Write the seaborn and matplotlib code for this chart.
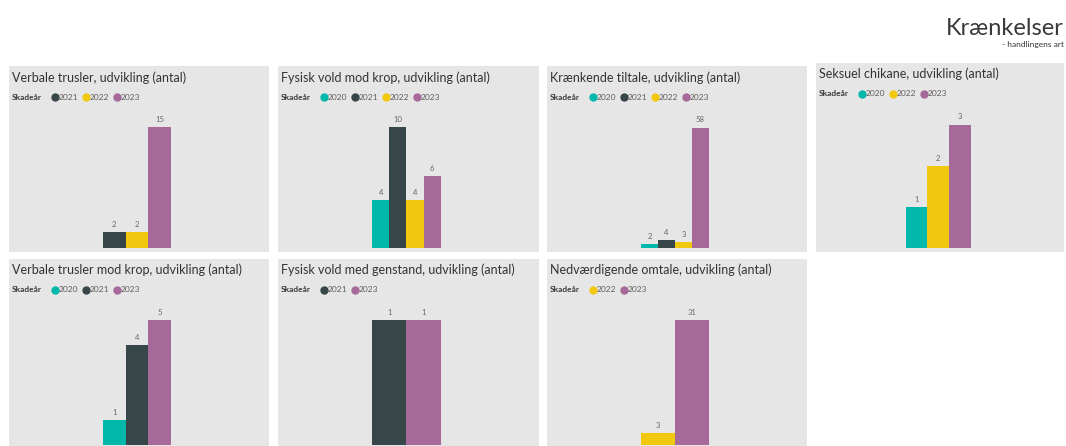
import matplotlib
matplotlib.use("Agg")
import matplotlib.pyplot as plt
import seaborn as sns

# panel data (Skadeår -> antal)
titles = [
    "Verbale trusler, udvikling (antal)",
    "Fysisk vold mod krop, udvikling (antal)",
    "Krænkende tiltale, udvikling (antal)",
    "Seksuel chikane, udvikling (antal)",
    "Verbale trusler mod krop, udvikling (antal)",
    "Fysisk vold med genstand, udvikling (antal)",
    "Nedværdigende omtale, udvikling (antal)",
]
years = [
    ["2021", "2022", "2023"],
    ["2020", "2021", "2022", "2023"],
    ["2020", "2021", "2022", "2023"],
    ["2020", "2022", "2023"],
    ["2020", "2021", "2023"],
    ["2021", "2023"],
    ["2022", "2023"],
]
counts = [
    [2, 2, 15],
    [4, 10, 4, 6],
    [2, 4, 3, 58],
    [1, 2, 3],
    [1, 4, 5],
    [1, 1],
    [3, 31],
]
palette = {"2020": "#01B8AA", "2021": "#374649", "2022": "#F2C80F", "2023": "#A66999"}

# panel boxes in pixels (left, top, right, bottom)
boxes = [(9, 66, 269, 252), (278, 66, 539, 252), (547, 66, 807, 252), (816, 63, 1064, 252),
         (9, 259, 269, 449), (278, 259, 539, 449), (547, 259, 807, 449)]

W, H = 1066, 446
plt.rcParams["font.family"] = ["Lato", "DejaVu Sans"]
fig = plt.figure(figsize=(W / 100, H / 100), dpi=100)
fig.patch.set_facecolor("white")


def ftext(x, y, s, **kw):
    fig.text(x / W, 1 - y / H, s, **kw)


for i, (x0, y0, x1, y1) in enumerate(boxes):
    wp, hp = x1 - x0, y1 - y0
    ax = fig.add_axes([x0 / W, 1 - y1 / H, wp / W, hp / H])
    ax.set_facecolor("#E6E6E6")
    yrs, vals = years[i], counts[i]
    n = len(yrs)
    sns.barplot(x=yrs, y=vals, hue=yrs, order=yrs, hue_order=yrs, palette=palette,
                width=1, saturation=1, linewidth=0, legend=False, ax=ax)

    # place the bar group like the report does
    gw = 0.262 * wp
    cx = 0.492 * wp
    u = n / gw
    c = (n - 1) / 2
    ax.set_xlim(c - cx * u, c + (wp - cx) * u)
    base = 3.5
    maxh = hp - base - 61.5
    vmax = max(vals)
    ax.set_ylim(-base * vmax / maxh, (hp - base) * vmax / maxh)

    for j, v in enumerate(vals):
        ax.annotate(str(v), (j, v), xytext=(0, 3), textcoords="offset points",
                    ha="center", va="bottom", fontsize=5.5, color="#666666")

    ax.set_xticks([])
    ax.set_yticks([])
    ax.set_xlabel("")
    ax.set_ylabel("")
    for s in ax.spines.values():
        s.set_visible(False)

    # title and legend
    ftext(x0 + 3, y0 + 15.5, titles[i], fontsize=9, color="#333333", va="baseline")
    ly = y0 + 31
    ftext(x0 + 3, ly, "Skadeår", fontsize=6, fontweight="bold", color="#3a3a3a", va="center")
    mx = x0 + 45.5
    for yr in yrs:
        fig.lines.append(plt.Line2D([mx / W], [1 - ly / H], marker="o", markersize=5,
                                    color=palette[yr], transform=fig.transFigure))
        ftext(mx + 4, ly, yr, fontsize=6, color="#605E5C", va="center")
        mx += 31

ftext(1064, 35, "Krænkelser", fontsize=17, color="#3a3a3a", ha="right", va="baseline")
ftext(1064, 44, "- handlingens art", fontsize=6, color="#333333", ha="right", va="center")

fig.savefig("out.png", dpi=100)
